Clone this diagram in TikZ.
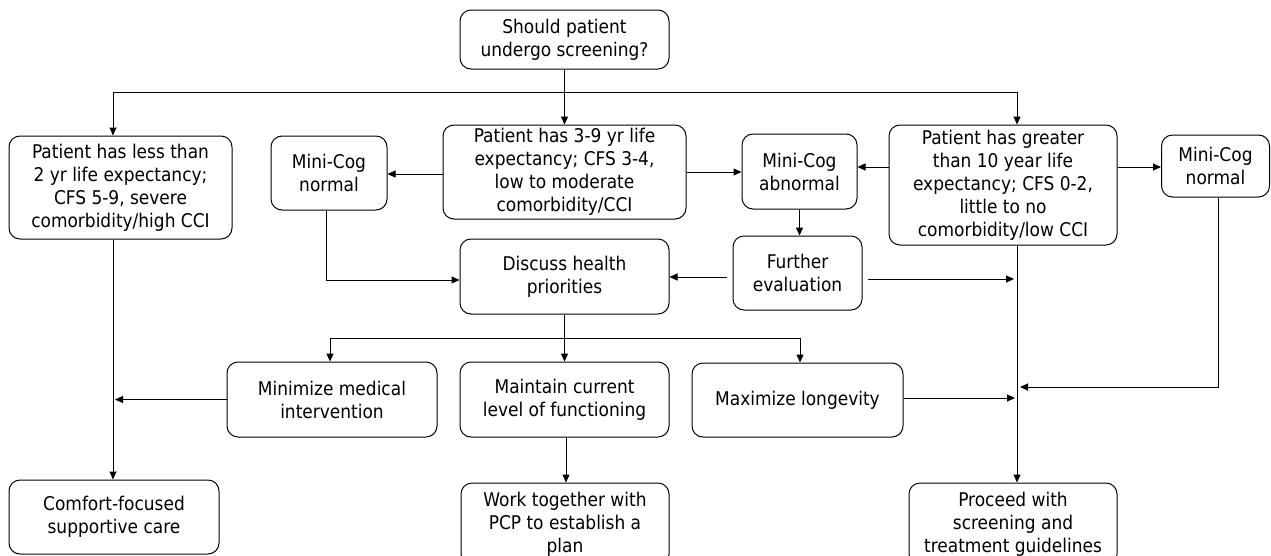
\documentclass[tikz,border=0pt]{standalone}
\usepackage{fontspec}
\setmainfont{DejaVu Sans Condensed}
\usetikzlibrary{arrows.meta}
\begin{document}
\begin{tikzpicture}[x=1pt,y=-1pt,
  box/.style={draw, line width=1pt, rounded corners=11pt, align=center, inner sep=0pt,
    font=\fontsize{18.9}{23}\selectfont},
  arr/.style={line width=1pt, -{Triangle[length=8pt,width=7pt]}},
  ln/.style={line width=1pt}]
\clip (0,0) rectangle (1271,555);
\fill[white] (0,0) rectangle (1271,555);
% nodes
\node[box, minimum width=209pt, minimum height=59pt] (top) at (564.5,39.5) {Should patient\\undergo screening?};
\node[box, minimum width=223pt, minimum height=103pt] (left) at (120.5,187.5) {Patient has less than\\2 yr life expectancy;\\CFS 5-9, severe\\comorbidity/high CCI};
\node[box, minimum width=116pt, minimum height=74pt] (mcl) at (329,173) {Mini-Cog\\normal};
\node[box, minimum width=243pt, minimum height=94pt] (mid) at (564.5,172) {Patient has 3-9 yr life\\expectancy; CFS 3-4,\\low to moderate\\comorbidity/CCI};
\node[box, minimum width=115pt, minimum height=75pt] (mca) at (799.5,171.5) {Mini-Cog\\abnormal};
\node[box, minimum width=228pt, minimum height=120pt] (grt) at (1003,185) {Patient has greater\\than 10 year life\\expectancy; CFS 0-2,\\little to no\\comorbidity/low CCI};
\node[box, minimum width=108pt, minimum height=62pt] (mcr) at (1215.5,166) {Mini-Cog\\normal};
\node[box, minimum width=209pt, minimum height=75pt] (disc) at (564.5,276.5) {Discuss health\\priorities};
\node[box, minimum width=129pt, minimum height=74pt] (fe) at (797.5,273) {Further\\evaluation};
\node[box, minimum width=210pt, minimum height=75pt] (mini) at (332,399.5) {Minimize medical\\intervention};
\node[box, minimum width=209pt, minimum height=75pt] (maint) at (564.5,399.5) {Maintain current\\level of functioning};
\node[box, minimum width=211pt, minimum height=74pt] (maxl) at (797.5,400) {Maximize longevity};
\node[box, minimum width=210pt, minimum height=74pt] (comf) at (114,517) {Comfort-focused\\supportive care};
\node[box, minimum width=208pt, minimum height=82pt] (work) at (565,524) {Work together with\\PCP to establish a\\plan};
\node[box, minimum width=208pt, minimum height=82pt] (proc) at (1013,524) {Proceed with\\screening and\\treatment guidelines};
% coordinates
\coordinate (jl) at (113,92);
\coordinate (jr) at (1017,92);
\coordinate (bl) at (330,338);
\coordinate (br) at (800,338);
\coordinate (fa) at (727,277);
\coordinate (fb) at (868,279);
\coordinate (fbe) at (1014,279);
\coordinate (mcrturn) at (1218,387);
\coordinate (mcre) at (1020,387);
\coordinate (mxe) at (1015,398);
\coordinate (mie) at (115,399.5);
\coordinate (mclx) at (326,280);
% connectors
\draw[ln] (jl) -- (jr);
\draw[arr] (top.south) -- (mid.north);
\draw[arr] (jl) -- (jl |- left.north);
\draw[arr] (jr) -- (jr |- grt.north);
\draw[arr] (mid.west |- 0,174) -- (mcl.east |- 0,174);
\draw[arr] (mid.east) -- (mca.west |- mid.east);
\draw[arr] (grt.west |- 0,167) -- (mca.east |- 0,167);
\draw[arr] (grt.east |- 0,167) -- (mcr.west |- 0,167);
\draw[arr] (mca.south) -- (mca.south |- fe.north);
\draw[arr] (mcl.south -| mclx) -- (mclx) -- (disc.west |- mclx);
\draw[arr] (fa) -- (disc.east |- fa);
\draw[arr] (fb) -- (fbe);
\draw[arr] (grt.south -| jr) -- (proc.north -| jr);
\draw[arr] (mcr.south -| mcrturn) -- (mcrturn) -- (mcre);
\draw[arr] (maxl.east |- mxe) -- (mxe);
\draw[arr] (disc.south) -- (maint.north);
\draw[ln] (bl) -- (br);
\draw[arr] (bl) -- (bl |- mini.north);
\draw[arr] (br) -- (br |- maxl.north);
\draw[arr] (mini.west) -- (mie);
\draw[arr] (left.south -| jl) -- (comf.north -| jl);
\draw[arr] (maint.south -| 566,0) -- (work.north -| 566,0);
\end{tikzpicture}
\end{document}
